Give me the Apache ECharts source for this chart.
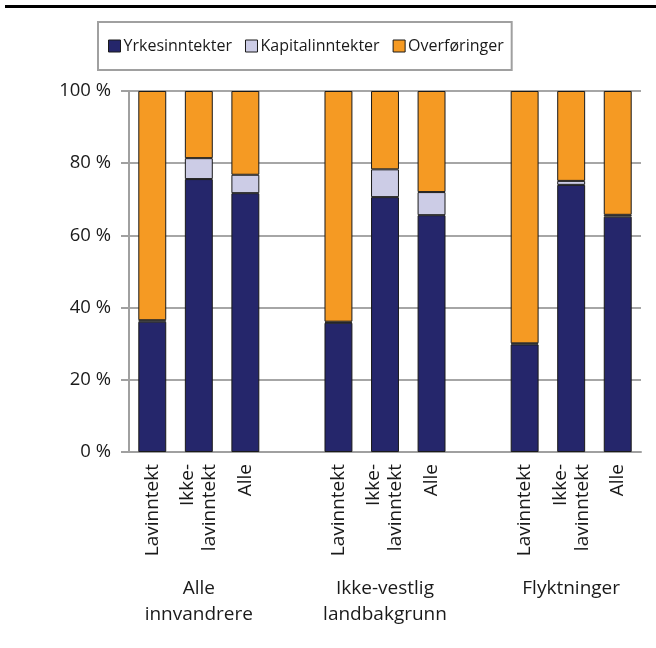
<!DOCTYPE html>
<html>
<head>
<meta charset="utf-8">
<script src="https://cdn.jsdelivr.net/npm/echarts@6/dist/echarts.min.js"></script>
<style>
  html, body { margin: 0; padding: 0; background: #fff; }
  #chart { width: 656px; height: 648px; }
</style>
</head>
<body>
<div id="chart"></div>
<script>
const categories = ["Lavinntekt", "Ikke-\nlavinntekt", "Alle", "",
  "Lavinntekt", "Ikke-\nlavinntekt", "Alle", "",
  "Lavinntekt", "Ikke-\nlavinntekt", "Alle"];
const groupLabels = ["", "Alle\ninnvandrere", "", "", "", "Ikke-vestlig\nlandbakgrunn", "", "", "", "Flyktninger", ""];
const yrkes = [36.1, 75.6, 71.7, "-", 35.8, 70.6, 65.6, "-", 29.8, 74.0, 65.2];
const kapital = [0.4, 5.8, 5.1, "-", 0.3, 7.7, 6.4, "-", 0.3, 1.1, 0.5];
const overf = [63.5, 18.6, 23.2, "-", 63.9, 21.7, 28.0, "-", 69.9, 24.9, 34.3];
const yTicks = [0, 20, 40, 60, 80, 100];

const font = "Open Sans";
const chart = echarts.init(document.getElementById("chart"));

function barSeries(name, data, color) {
  return {
    name,
    type: "bar",
    stack: "total",
    barWidth: "60%",
    data,
    itemStyle: { color, borderColor: "#1a1a1a", borderWidth: 1 },
  };
}

chart.setOption({
  animation: false,
  textStyle: { fontFamily: font },
  graphic: [
    { type: "rect", shape: { x: 5, y: 5, width: 651, height: 3 }, style: { fill: "#000" } },
  ],
  legend: {
    left: 98,
    top: 22,
    padding: [14, 8, 14, 10],
    borderColor: "#a0a0a0",
    borderWidth: 2,
    itemGap: 13,
    itemWidth: 12,
    itemHeight: 12,
    icon: "rect",
    textStyle: { fontFamily: font, fontSize: 16, lineHeight: 20, color: "#1a1a1a", padding: [0, 0, 0, -2] },
    itemStyle: { borderColor: "#1a1a1a", borderWidth: 1 },
  },
  grid: { left: 129, right: 15, top: 91, bottom: 196 },
  xAxis: [
    {
      type: "category",
      data: categories,
      axisLine: { lineStyle: { color: "#a0a0a0", width: 2 } },
      axisTick: { show: false },
      axisLabel: {
        interval: 0,
        rotate: 90,
        margin: 12,
        fontSize: 19,
        lineHeight: 22,
        color: "#1a1a1a",
        fontFamily: font,
      },
    },
    {
      type: "category",
      position: "bottom",
      offset: 124,
      data: groupLabels,
      axisLine: { show: false },
      axisTick: { show: false },
      axisLabel: {
        interval: 0,
        margin: 0,
        fontSize: 19,
        lineHeight: 26,
        color: "#1a1a1a",
        fontFamily: font,
      },
    },
  ],
  yAxis: {
    type: "value",
    min: 0,
    max: 100,
    interval: 20,
    axisLine: { show: true, lineStyle: { color: "#a0a0a0", width: 2 } },
    axisTick: { show: true, length: 8, lineStyle: { color: "#a0a0a0", width: 2 } },
    splitLine: { lineStyle: { color: "#a6a6a6", width: 2 } },
    axisLabel: {
      margin: 18,
      fontSize: 18.5,
      color: "#1a1a1a",
      fontFamily: font,
      formatter: (v) => (yTicks.includes(v) ? v + " %" : ""),
    },
  },
  series: [
    barSeries("Yrkesinntekter", yrkes, "#25266b"),
    barSeries("Kapitalinntekter", kapital, "#cccce6"),
    barSeries("Overføringer", overf, "#f59a23"),
  ],
});
</script>
</body>
</html>
